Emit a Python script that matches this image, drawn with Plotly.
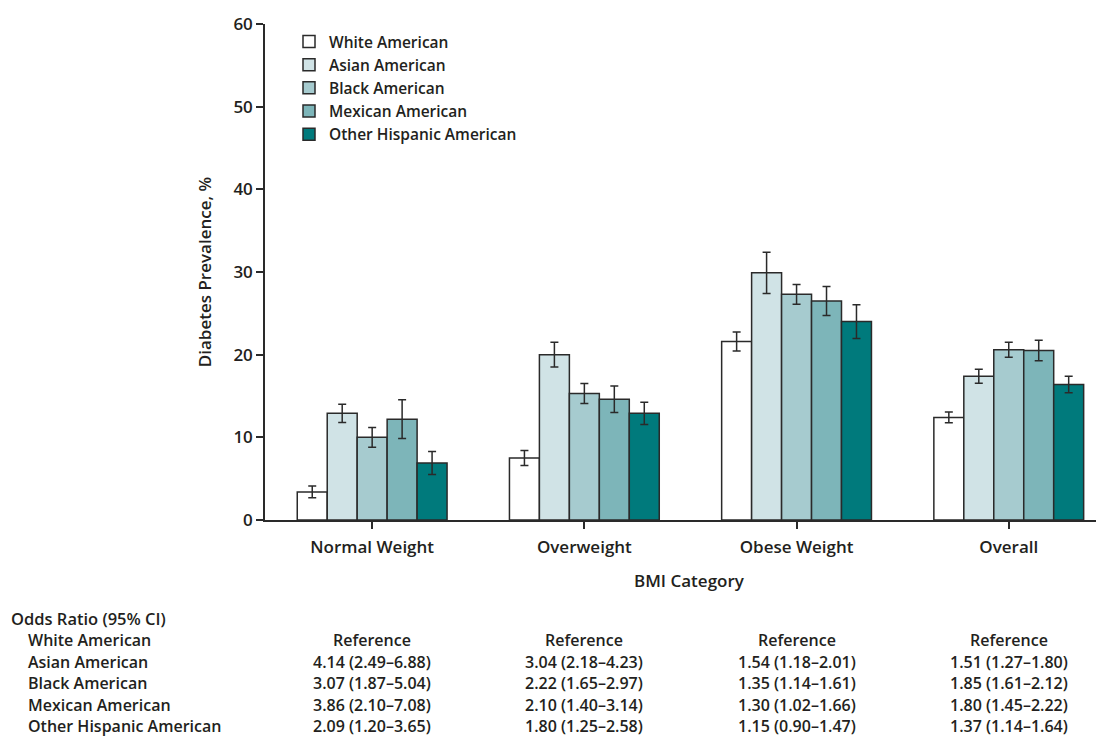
import plotly.graph_objects as go

categories = ["Normal Weight", "Overweight", "Obese Weight", "Overall"]
series_names = ["White American", "Asian American", "Black American",
                "Mexican American", "Other Hispanic American"]
colors = ["#ffffff", "#d0e3e6", "#a6cbcf", "#7db5b9", "#007a7c"]

white_vals = [3.4, 7.5, 21.6, 12.4]
asian_vals = [12.9, 20.0, 29.9, 17.4]
black_vals = [10.0, 15.3, 27.3, 20.6]
mexican_vals = [12.2, 14.6, 26.5, 20.5]
other_vals = [6.9, 12.9, 24.0, 16.4]

white_err = [0.7, 0.9, 1.15, 0.65]
asian_err = [1.1, 1.5, 2.5, 0.85]
black_err = [1.2, 1.2, 1.2, 0.9]
mexican_err = [2.35, 1.6, 1.75, 1.25]
other_err = [1.4, 1.35, 2.05, 1.0]

values = [white_vals, asian_vals, black_vals, mexican_vals, other_vals]
errors = [white_err, asian_err, black_err, mexican_err, other_err]

y_ticks = [0, 10, 20, 30, 40, 50, 60]

table_title = "Odds Ratio (95% CI)"
or_white = ["Reference", "Reference", "Reference", "Reference"]
or_asian = ["4.14 (2.49–6.88)", "3.04 (2.18–4.23)", "1.54 (1.18–2.01)", "1.51 (1.27–1.80)"]
or_black = ["3.07 (1.87–5.04)", "2.22 (1.65–2.97)", "1.35 (1.14–1.61)", "1.85 (1.61–2.12)"]
or_mexican = ["3.86 (2.10–7.08)", "2.10 (1.40–3.14)", "1.30 (1.02–1.66)", "1.80 (1.45–2.22)"]
or_other = ["2.09 (1.20–3.65)", "1.80 (1.25–2.58)", "1.15 (0.90–1.47)", "1.37 (1.14–1.64)"]
or_rows = [or_white, or_asian, or_black, or_mexican, or_other]

FONT = "Open Sans"
TXT = "#231f20"
LINE = "#2a2a2a"

fig = go.Figure()
for name, vals, errs, col in zip(series_names, values, errors, colors):
    fig.add_trace(go.Bar(
        name=name, x=categories, y=vals,
        marker=dict(color=col, line=dict(color=LINE, width=1.5)),
        error_y=dict(type="data", array=errs, visible=True,
                     color=LINE, thickness=1.5, width=4),
    ))

# the page body has an 8px margin, so the figure is sized to fit inside it
OFF = 8
W, H = 1104 - OFF, 739 - OFF
ml, mr, mt, mb = 265 - OFF, 4, 19 - OFF, 219
plot_h = H - mt - mb
plot_w = W - ml - mr


def py(pix):
    # pix: screen pixel row; convert to paper coordinate
    return (739 - mb - pix) / plot_h


def px(pix):
    return (pix - 265) / plot_w


def tfont(size=17):
    return dict(size=size, family=FONT, color=TXT, weight=600)


annotations = []
annotations.append(dict(text="BMI Category", xref="paper", yref="paper",
                        x=px(689), y=py(581), showarrow=False,
                        xanchor="center", yanchor="middle", font=tfont()))
annotations.append(dict(text=table_title, xref="paper", yref="paper",
                        x=px(10), y=py(619), showarrow=False, borderpad=0,
                        xanchor="left", yanchor="middle", font=tfont(16.5)))
row_pix = [641, 663, 685, 707, 728]
for name, row, rp in zip(series_names, or_rows, row_pix):
    annotations.append(dict(text=name, xref="paper", yref="paper",
                            x=px(27), y=py(rp), showarrow=False, borderpad=0,
                            xanchor="left", yanchor="middle", font=tfont(16)))
    for cat, txt in zip(categories, row):
        annotations.append(dict(text=txt, xref="x", yref="paper",
                                x=cat, y=py(rp), showarrow=False, borderpad=0,
                                xanchor="center", yanchor="middle", font=tfont(16)))

fig.update_layout(
    width=W, height=H,
    margin=dict(l=ml, r=mr, t=mt, b=mb),
    paper_bgcolor="white", plot_bgcolor="white",
    barmode="group", bargap=0.294, bargroupgap=0,
    font=tfont(),
    showlegend=True,
    legend=dict(x=px(289), y=py(20), xanchor="left", yanchor="top",
                bgcolor="rgba(0,0,0,0)", tracegroupgap=0,
                font=tfont(15.5), itemwidth=30),
    xaxis=dict(range=[-0.505, 3.43], showline=True, linecolor=LINE, linewidth=1.5,
               ticks="outside", ticklen=7, tickcolor=LINE, tickwidth=1.5,
               ticklabelstandoff=4,
               showgrid=False, zeroline=False, tickfont=tfont()),
    yaxis=dict(range=[0, 60], tickvals=y_ticks, showline=True, linecolor=LINE,
               linewidth=1.5, ticks="outside", ticklen=7, tickcolor=LINE,
               tickwidth=1.5, showgrid=False, zeroline=False,
               ticklabeloverflow="allow",
               title=dict(text="Diabetes Prevalence, %", standoff=17, font=tfont()),
               tickfont=tfont()),
    annotations=annotations,
)

fig.write_html("out.html")
